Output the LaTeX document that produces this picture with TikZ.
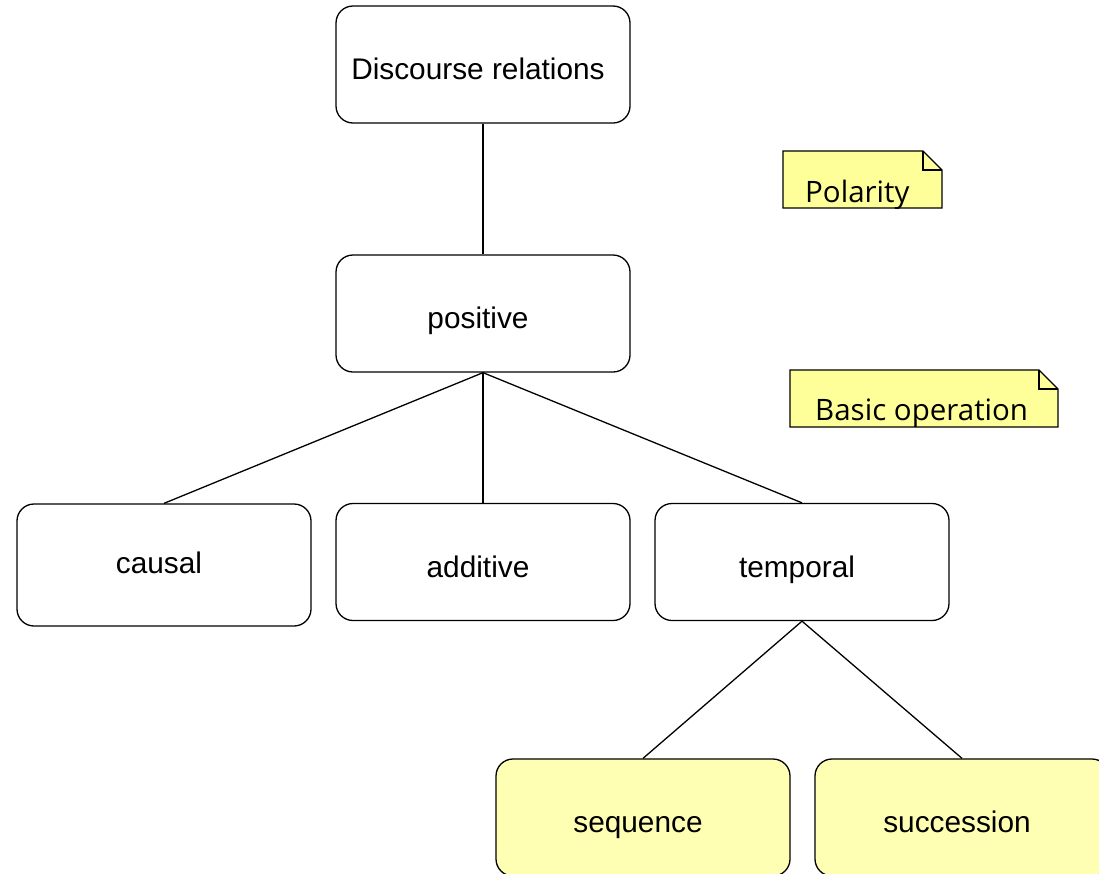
\documentclass[tikz,border=0pt]{standalone}
\usepackage{fontspec}
\setmainfont{Liberation Sans}
\newfontfamily\notefont{Open Sans}
\begin{document}
\begin{tikzpicture}[x=1pt,y=-1pt,
  box/.style={draw, line width=1.3pt, rounded corners=17pt,
    minimum width=294pt, minimum height=117pt, inner sep=0pt},
  hibox/.style={box, fill=boxyellow},
  lbl/.style={font=\fontsize{29.8}{35}\selectfont, inner sep=0pt, anchor=base},
  notelbl/.style={font=\notefont\fontsize{29.5}{35}\selectfont, inner sep=0pt, anchor=base west},
  notebg/.style={draw, line width=1.3pt, fill=noteyellow, line join=miter},
  link/.style={line width=1.3pt}]
\definecolor{boxyellow}{RGB}{255,255,180}
\definecolor{noteyellow}{RGB}{255,255,153}
\useasboundingbox (0,0) rectangle (1099,873);

% tree boxes
\node[box] (disc) at (483,64.5) {};
\node[box] (pos)  at (483,313.5) {};
\node[box, minimum height=122pt] (caus) at (164,565) {};
\node[box] (add)  at (483,562) {};
\node[box] (temp) at (802,562) {};
\node[hibox] (seq)  at (643,817.5) {};
\node[hibox] (succ) at (962,817.5) {};

% box labels, placed on their baselines
\node[lbl] (discT) at (478,79)  {Discourse relations};
\node[lbl] (posT)  at (478,328) {positive};
\node[lbl] (causT) at (159,573) {causal};
\node[lbl] (addT)  at (478,577) {additive};
\node[lbl] (tempT) at (797,577) {temporal};
\node[lbl] (seqT)  at (638,832) {sequence};
\node[lbl] (succT) at (957,832) {succession};

% connectors
\draw[link] (disc.south) -- (pos.north);
\draw[link] (pos.south) -- (caus.north);
\draw[link] (pos.south) -- (add.north);
\draw[link] (pos.south) -- (temp.north);
\draw[link] (temp.south) -- (seq.north);
\draw[link] (temp.south) -- (succ.north);

% sticky notes with folded corner
\draw[notebg] (783,151) -- (923,151) -- (942,170) -- (942,208) -- (783,208) -- cycle;
\draw[line width=1.1pt] (923,151) -- (923,170) -- (942,170);
\node[notelbl] (pol) at (805,202) {Polarity};

\draw[notebg] (790,370) -- (1039,370) -- (1058,389) -- (1058,427) -- (790,427) -- cycle;
\draw[line width=1.1pt] (1039,370) -- (1039,389) -- (1058,389);
\node[notelbl] (basic) at (815,420) {Basic operation};
\end{tikzpicture}
\end{document}
